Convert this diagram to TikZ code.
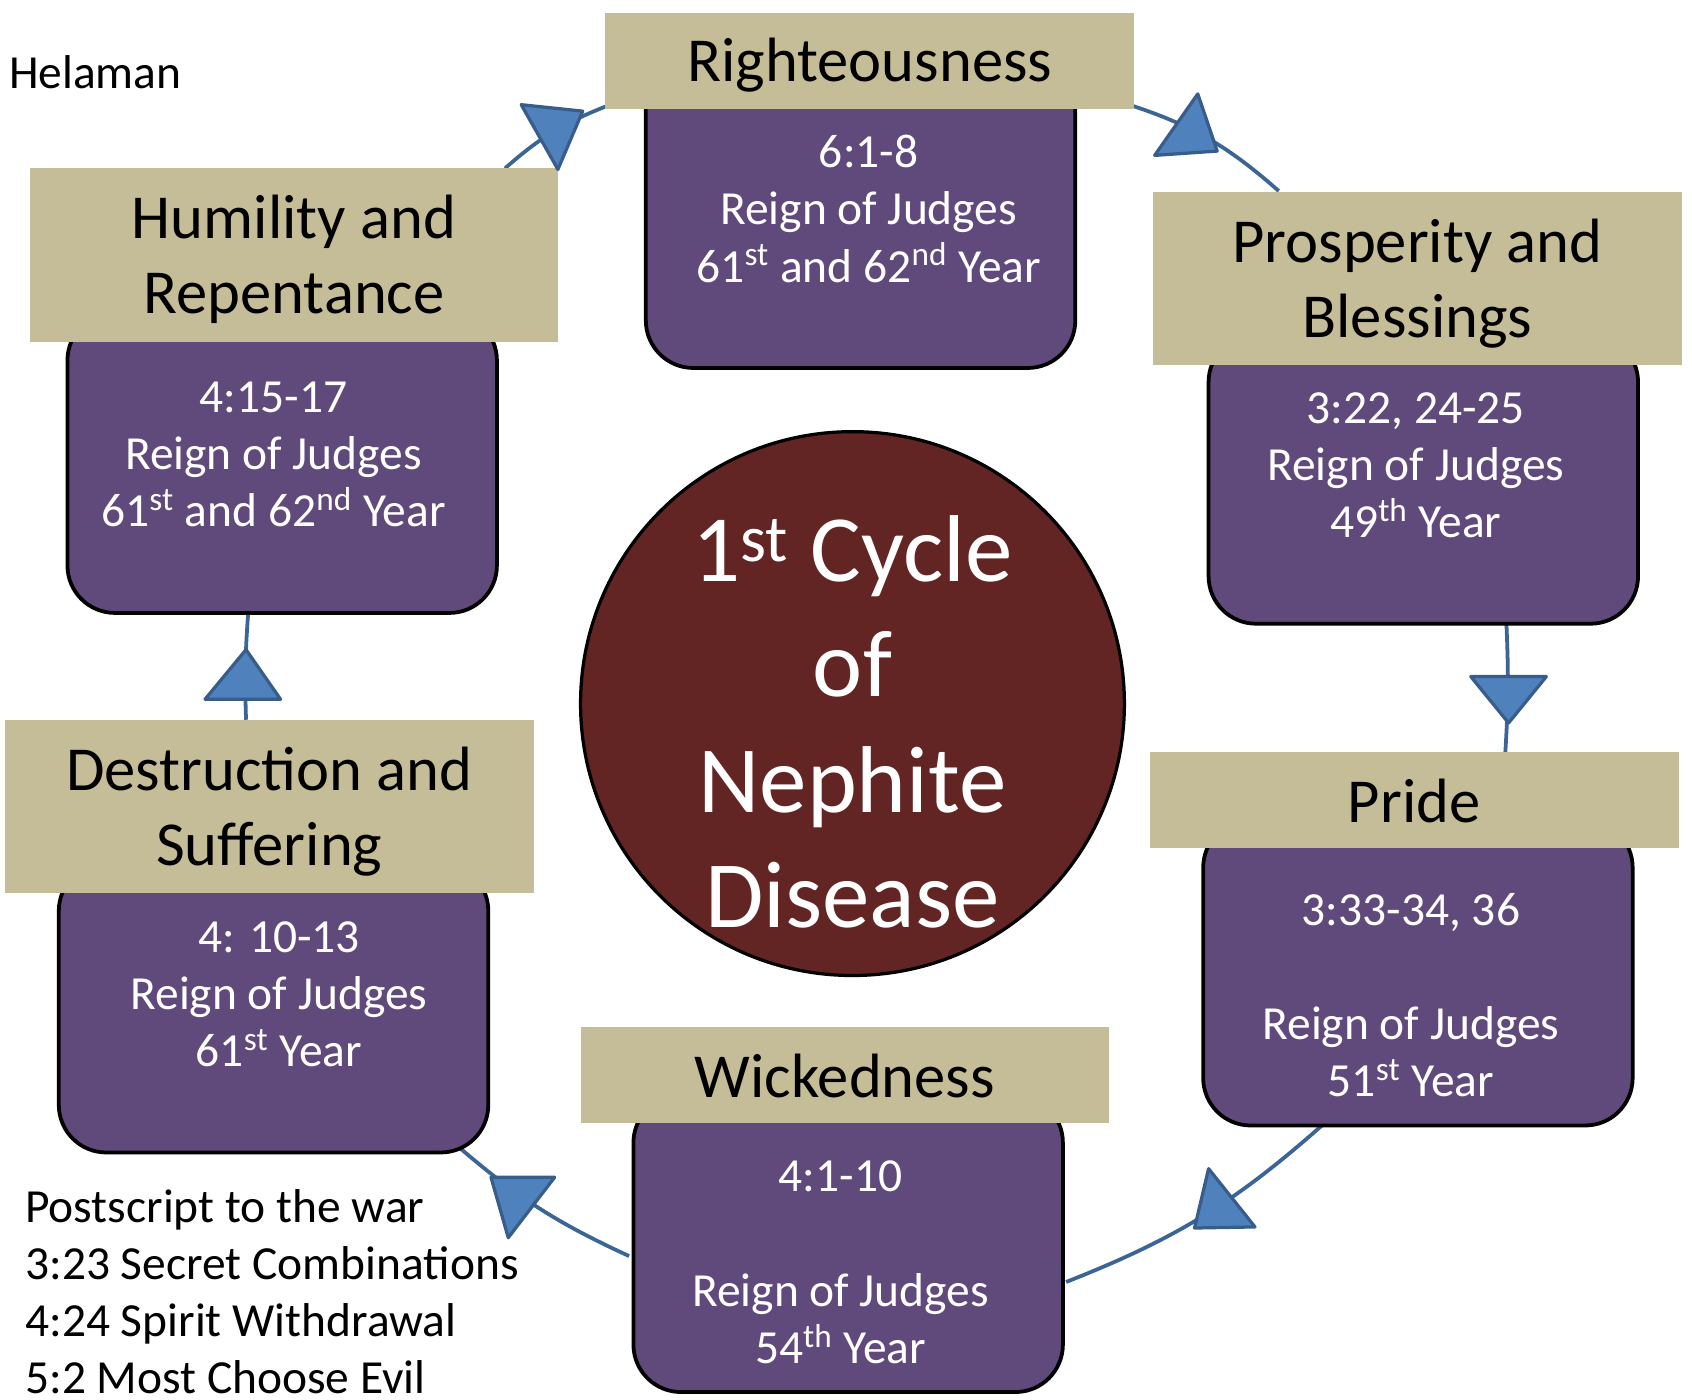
\documentclass[tikz,border=0pt]{standalone}
\usepackage{fontspec}
\setmainfont{Carlito}
\definecolor{tanC}{HTML}{C4BD97}
\definecolor{purpleC}{HTML}{604A7B}
\definecolor{redC}{HTML}{632523}
\definecolor{lineC}{HTML}{3A6595}
\definecolor{headFill}{HTML}{4F81BD}
\definecolor{headLine}{HTML}{385D8A}
\begin{document}
\begin{tikzpicture}[x=0.5pt,y=-0.5pt,
  tanbox/.style={fill=tanC, inner sep=0pt, minimum width=245pt},
  tantext/.style={align=center, text=black, inner sep=0pt, font=\fontsize{29}{35}\selectfont},
  oneline/.style={minimum height=44.5pt},
  twoline/.style={minimum height=80.5pt},
  purplebox/.style={fill=purpleC, draw=black, line width=1.75pt, rounded corners=22pt, minimum width=199pt, inner sep=0pt},
  ptext/.style={text=white, align=center, inner sep=0pt, font=\fontsize{22}{26.5}\selectfont},
  plaintext/.style={text=black, align=left, inner sep=0pt, anchor=west, font=\fontsize{22}{26.5}\selectfont},
  conn/.style={draw=lineC, line width=1.75pt},
  ahead/.style={fill=headFill, draw=headLine, line width=1.5pt, line join=round}]
\useasboundingbox (0,0) rectangle (1568,1297);

% connector end points
\coordinate (c1a) at (468,156);  \coordinate (c1b) at (563,98);
\coordinate (c2a) at (1040,95);  \coordinate (c2b) at (1185,177);
\coordinate (c3a) at (1396,578); \coordinate (c3b) at (1395,697);
\coordinate (c4a) at (1225,1043);\coordinate (c4b) at (988,1188);
\coordinate (c5a) at (583,1164); \coordinate (c5b) at (424,1062);
\coordinate (c6a) at (228,667);  \coordinate (c6b) at (230,568);

\draw[conn] (c1a) to[bend left=10] (c1b);
\draw[conn] (c2a) to[bend left=12] (c2b);
\draw[conn] (c3a) to[bend left=3] (c3b);
\draw[conn] (c4a) to[bend left=10] (c4b);
\draw[conn] (c5a) to[bend left=8] (c5b);
\draw[conn] (c6a) to[bend left=3] (c6b);

% purple boxes
\node[purplebox, minimum height=143pt]   (rp) at (797.5,198) {};
\node[purplebox, minimum height=139pt]   (hp) at (261.5,429) {};
\node[purplebox, minimum height=134pt]   (pp) at (1319,444) {};
\node[purplebox, minimum height=141.5pt] (prp) at (1314,901.5) {};
\node[purplebox, minimum height=137.5pt] (wp) at (786,1152.5) {};
\node[purplebox, minimum height=134pt]   (dp) at (253.5,934) {};

% tan title boxes
\node[tanbox, oneline] (rt) at (806,56.5) {};
\node[tanbox, twoline] (ht) at (272.5,236.5) {};
\node[tanbox, twoline] (pt) at (1313.5,258) {};
\node[tanbox, oneline] (prt) at (1310.5,741) {};
\node[tanbox, oneline] (wt) at (783,996.5) {};
\node[tanbox, twoline] (dt) at (249.5,747.5) {};

% title texts
\node[tantext] (rtt) at (806,60.5) {Righteousness};
\node[tantext] (htt) at (272.5,240.5) {Humility and\\Repentance};
\node[tantext] (ptt) at (1313.5,263) {Prosperity and\\Blessings};
\node[tantext] (prtt) at (1310.5,742) {Pride};
\node[tantext] (wtt) at (783,997.5) {Wickedness};
\node[tantext] (dtt) at (249.5,752) {Destruction and\\Suffering};

% box texts
\node[ptext] (rx) at (805,193.5) {6:1-8\\Reign of Judges\\61\textsuperscript{st} and 62\textsuperscript{nd} Year};
\node[ptext] (hx) at (253.5,421) {4:15-17\\Reign of Judges\\61\textsuperscript{st} and 62\textsuperscript{nd} Year};
\node[ptext] (px) at (1312,431) {3:22, 24-25\\Reign of Judges\\49\textsuperscript{th} Year};
\node[ptext] (prx) at (1307.5,922) {3:33-34, 36\\[26.5pt]Reign of Judges\\51\textsuperscript{st} Year};
\node[ptext] (wx) at (779,1170) {4:1-10\\[26.5pt]Reign of Judges\\54\textsuperscript{th} Year};
\node[ptext] (dx) at (258.5,921.5) {4: 10-13\\Reign of Judges\\61\textsuperscript{st} Year};

% central circle
\node[circle, fill=redC, draw=black, line width=1.5pt, minimum size=252pt, inner sep=0pt] (cyc) at (790,652) {};
\node[text=white, align=center, inner sep=0pt, font=\fontsize{44}{53.5}\selectfont] (cycx) at (790,669) {1\textsuperscript{st} Cycle\\of\\Nephite\\Disease};

% free texts
\node[plaintext] (hel) at (8,67) {Helaman};
\node[plaintext] (ps) at (23,1197) {Postscript to the war\\3:23 Secret Combinations\\4:24 Spirit Withdrawal\\5:2 Most Choose Evil};

% arrow heads
\filldraw[ahead] (483,97) -- (540,103) -- (517,157) -- cycle;
\filldraw[ahead] (1110,87) -- (1128,140) -- (1070,144) -- cycle;
\filldraw[ahead] (1363,627) -- (1433,627) -- (1398,670) -- cycle;
\filldraw[ahead] (1120,1083) -- (1163,1137) -- (1107,1138) -- cycle;
\filldraw[ahead] (455,1091) -- (514,1091) -- (471,1147) -- cycle;
\filldraw[ahead] (190,648) -- (260,648) -- (228,602) -- cycle;
\end{tikzpicture}
\end{document}
